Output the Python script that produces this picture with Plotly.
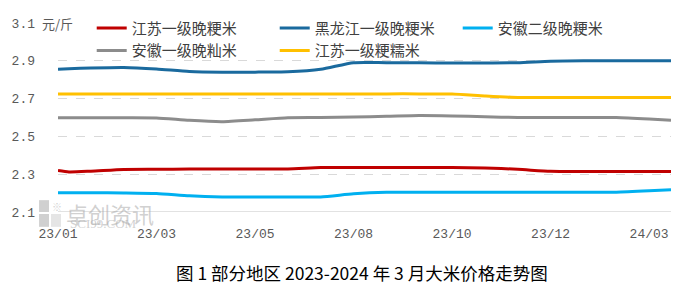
import plotly.graph_objects as go

# x positions: week index (label every 9 weeks)
x_idx = [0, 1, 3, 6, 9, 12, 15, 18, 21, 24, 27, 30, 33, 36, 39, 42, 45, 48, 51, 54, 56]
tick_pos = [0, 9, 18, 27, 36, 45, 54]
tick_labels = ["23/01", "23/03", "23/05", "23/08", "23/10", "23/12", "24/03"]

names = ["江苏一级晚粳米", "黑龙江一级晚粳米", "安徽二级晚粳米", "安徽一级晚籼米", "江苏一级粳糯米"]
colors = ["#C00000", "#1A6A9E", "#00B0F0", "#8C8C8C", "#FFC000"]

js_late_japonica = [2.320, 2.312, 2.316, 2.325, 2.326, 2.327, 2.327, 2.328, 2.328, 2.335, 2.336, 2.336, 2.336, 2.336,
                    2.333, 2.326, 2.315, 2.314, 2.314, 2.314, 2.314]
hlj_late_japonica = [2.855, 2.858, 2.862, 2.865, 2.857, 2.844, 2.840, 2.840, 2.842, 2.855, 2.890, 2.890, 2.890, 2.888,
                     2.888, 2.890, 2.898, 2.900, 2.900, 2.900, 2.900]
ah2_late_japonica = [2.202, 2.202, 2.202, 2.201, 2.198, 2.186, 2.180, 2.179, 2.179, 2.180, 2.196, 2.204, 2.205, 2.205,
                     2.205, 2.205, 2.205, 2.205, 2.205, 2.212, 2.218]
ah1_late_indica = [2.599, 2.599, 2.599, 2.599, 2.598, 2.585, 2.578, 2.588, 2.599, 2.600, 2.603, 2.606, 2.610, 2.608,
                   2.604, 2.600, 2.600, 2.600, 2.600, 2.592, 2.585]
js_glutinous = [2.725, 2.725, 2.725, 2.725, 2.725, 2.725, 2.725, 2.725, 2.725, 2.725, 2.725, 2.725, 2.725, 2.724,
                2.714, 2.706, 2.706, 2.706, 2.706, 2.706, 2.706]

series = [js_late_japonica, hlj_late_japonica, ah2_late_japonica, ah1_late_indica, js_glutinous]

fig = go.Figure()
for name, col, vals in zip(names, colors, series):
    fig.add_trace(go.Scatter(x=x_idx, y=vals, name=name, mode="lines",
                             line=dict(color=col, width=3, shape="spline", smoothing=0.6)))

wm = "rgba(170,170,170,0.55)"


def px_x(p):
    return (p - 56) / 615.0


def px_y(p):
    return (212 - p) / 191.0


fig.update_layout(
    width=683, height=290,
    margin=dict(l=56, r=12, t=21, b=78),
    paper_bgcolor="white", plot_bgcolor="white",
    showlegend=True,
    legend=dict(orientation="h", x=0.055, xanchor="left", y=1.06, yanchor="top",
                font=dict(family="Noto Sans CJK SC", size=15, color="#404040"),
                entrywidth=138, entrywidthmode="pixels", bgcolor="rgba(0,0,0,0)",
                tracegroupgap=0),
    xaxis=dict(range=[0, 56], tickmode="array", tickvals=tick_pos, ticktext=tick_labels,
               showgrid=False, zeroline=False, showline=False, ticks="", ticklabelstandoff=12,
               tickfont=dict(family="Liberation Mono", size=13, color="#595959")),
    yaxis=dict(range=[2.1, 3.1], tickmode="array", tickvals=[2.1, 2.3, 2.5, 2.7, 2.9, 3.1],
               ticktext=["2.1", "2.3", "2.5", "2.7", "2.9", "3.1"],
               showgrid=True, gridcolor="#D9D9D9", griddash="dash", gridwidth=1,
               zeroline=False, showline=False, ticks="", ticklabelstandoff=22,
               tickfont=dict(family="Liberation Mono", size=13, color="#595959")),
    shapes=[
        dict(type="line", xref="paper", yref="y", x0=0, x1=1, y0=2.1, y1=2.1,
             line=dict(color="#D9D9D9", width=1.5)),
        # watermark logo blocks
        dict(type="rect", xref="paper", yref="paper", x0=px_x(37), x1=px_x(47), y0=px_y(212), y1=px_y(200),
             fillcolor=wm, line=dict(width=0), layer="above"),
        dict(type="rect", xref="paper", yref="paper", x0=px_x(37), x1=px_x(47), y0=px_y(227), y1=px_y(214),
             fillcolor=wm, line=dict(width=0), layer="above"),
        dict(type="rect", xref="paper", yref="paper", x0=px_x(49), x1=px_x(59), y0=px_y(227), y1=px_y(214),
             fillcolor="rgba(170,170,170,0.3)", line=dict(width=0), layer="above"),
    ],
    annotations=[
        dict(text="元/斤", xref="paper", yref="y", x=-0.03, y=3.1, xanchor="left", yanchor="middle",
             showarrow=False, font=dict(family="Noto Sans CJK SC", size=13, color="#595959")),
        dict(text="※", xref="paper", yref="paper", x=px_x(48), y=px_y(197), xanchor="left", yanchor="top",
             showarrow=False, font=dict(family="Noto Sans CJK SC", size=10, color=wm)),
        dict(text="卓创资讯", xref="paper", yref="paper", x=px_x(62), y=px_y(195), xanchor="left", yanchor="top",
             showarrow=False, font=dict(family="Noto Sans CJK SC", size=22, color=wm)),
        dict(text="SCI99.COM", xref="paper", yref="paper", x=px_x(66), y=px_y(214), xanchor="left", yanchor="top",
             showarrow=False, font=dict(family="Liberation Serif", size=13, color=wm)),
        dict(text="图 1 部分地区 2023-2024 年 3 月大米价格走势图", xref="paper", yref="paper",
             x=0.5, y=-0.245, xanchor="center", yanchor="top", xshift=-3,
             showarrow=False, font=dict(family="Noto Sans CJK SC", size=17.5, color="#000000")),
    ],
)

fig.write_html("out.html")
